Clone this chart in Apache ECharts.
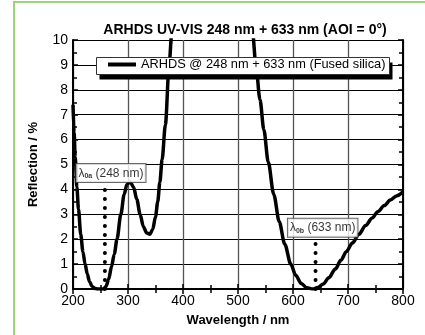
<!DOCTYPE html>
<html><head><meta charset="utf-8">
<script src="https://cdn.jsdelivr.net/npm/echarts@6/dist/echarts.min.js"></script>
<style>html,body{margin:0;padding:0;background:#fff}#c{width:425px;height:335px}</style>
</head><body><div id="c"></div>
<script>
const titleText = 'ARHDS UV-VIS 248 nm + 633 nm (AOI = 0°)';
const seriesName = 'ARHDS @ 248 nm + 633 nm (Fused silica)';
const xName = 'Wavelength / nm';
const yName = 'Reflection / %';
const wavelengths = [200,202,204,207,210,214,218,222,226,230,235,240,245,250,255,260,265,270,275,280,287,293,298,304,310,316,322,328,334,340,345,350,354,358,362,368,375,380,390,420,460,500,520,527,532,540,547,555,565,575,585,596,605,615,625,636,645,655,665,677,687,697,708,720,732,744,754,766,777,789,800];
const reflection  = [7.4,6.3,5.3,4.1,3.2,2.2,1.5,1.0,0.6,0.3,0.1,0.02,0.0,0.0,0.0,0.1,0.4,0.9,1.4,2.0,3.0,3.8,4.2,4.3,4.1,3.6,3.0,2.5,2.25,2.2,2.4,2.9,3.5,4.3,5.2,6.6,9.1,10.4,13,20,22,18,12.5,10.2,9.1,7.6,6.4,5.1,3.8,2.7,1.8,1.0,0.55,0.22,0.05,0.0,0.06,0.2,0.45,0.8,1.15,1.5,1.85,2.2,2.55,2.85,3.1,3.35,3.57,3.75,3.9];
const markerA = {x: 258, top: 4.15, labelX: 269, labelY: 4.3, sub: '0a', text: ' (248 nm)'};
const markerB = {x: 641, top: 1.9, labelX: 654, labelY: 2.1, sub: '0b', text: ' (633 nm)'};

const font = '"Liberation Sans", Arial, sans-serif';
const chart = echarts.init(document.getElementById('c'));
const data = wavelengths.map((w, i) => [w, reflection[i]]);

function dotted(m){
  return {type:'line', name:'dots'+m.sub, data:[[m.x,0],[m.x,m.top]], showSymbol:false, silent:true,
    lineStyle:{color:'#000', width:4, type:[0,9], cap:'round'}, z:3};
}
function ann(m){
  return {type:'scatter', name:'ann'+m.sub, data:[[m.labelX,m.labelY]], symbolSize:0.1, silent:true, z:5,
    label:{show:true, position:'top', distance:0,
      formatter:'{l|λ}{s|'+m.sub+'}{t|'+m.text+'}',
      backgroundColor:'#fff', borderColor:'#444', borderWidth:1, padding:[3,2,2,2],
      rich:{l:{fontSize:12, fontFamily:font, color:'#000'},
            s:{fontSize:7, fontWeight:'bold', fontFamily:font, color:'#000', padding:[6,0,0,0]},
            t:{fontSize:12, fontFamily:font, color:'#000'}}}};
}

chart.setOption({
  animation:false,
  backgroundColor:'#fff',
  textStyle:{fontFamily:font},
  graphic:[
    {type:'rect', shape:{x:14, y:2, width:430, height:360}, style:{fill:'none', stroke:'#9ad57a', lineWidth:2}, silent:true, z:0},
    {type:'rect', shape:{x:99.5, y:62.5, width:293, height:17}, z:49, silent:true, style:{fill:'#000'}},
    {type:'rect', shape:{x:96.5, y:57.5, width:293, height:17}, z:50, silent:true,
     style:{fill:'#fff', stroke:'#333', lineWidth:1}}
  ],
  title:{text:titleText, left:240, top:18, textAlign:'center',
    textStyle:{fontSize:14, fontWeight:'bold', color:'#000', fontFamily:font}},
  legend:{data:[seriesName], left:96, top:57, height:17, z:60,
    padding:[1,6,1,12],
    icon:'rect', itemWidth:28, itemHeight:4, itemGap:0,
    textStyle:{fontSize:12.8, color:'#000', fontFamily:font}},
  grid:{left:73, right:22, top:40, bottom:46},
  xAxis:[{type:'value', min:200, max:800, interval:100, name:xName, nameLocation:'middle', nameGap:25,
    nameTextStyle:{fontSize:13, fontWeight:'bold', color:'#000', fontFamily:font},
    axisLine:{lineStyle:{color:'#000', width:2}},
    axisTick:{inside:true, length:5, lineStyle:{color:'#000', width:1.5}},
    minorTick:{show:true, splitNumber:2, length:4, lineStyle:{color:'#000', width:1.5}},
    axisLabel:{fontSize:14, color:'#000', margin:5, fontFamily:font},
    splitLine:{show:true, lineStyle:{color:'#555', width:1.3}}},
   {type:'value', position:'top', min:200, max:800, interval:100,
    axisLine:{show:true, lineStyle:{color:'#000', width:2}},
    axisTick:{inside:true, length:5, lineStyle:{color:'#000', width:1.5}},
    minorTick:{show:true, splitNumber:2, length:4, lineStyle:{color:'#000', width:1.5}},
    axisLabel:{show:false}, splitLine:{show:false}}],
  yAxis:[{type:'value', min:0, max:10, interval:1, name:yName, nameLocation:'middle', nameGap:33,
    nameTextStyle:{fontSize:13, fontWeight:'bold', color:'#000', fontFamily:font},
    axisLine:{show:true, lineStyle:{color:'#000', width:2}},
    axisTick:{show:true, inside:true, length:5, lineStyle:{color:'#000', width:1.5}},
    minorTick:{show:true, splitNumber:2, length:4, lineStyle:{color:'#000', width:1.5}},
    axisLabel:{fontSize:14, color:'#000', margin:5, fontFamily:font},
    splitLine:{show:true, lineStyle:{color:'#000', width:1}}},
   {type:'value', position:'right', min:0, max:10, interval:1,
    axisLine:{show:true, lineStyle:{color:'#000', width:2}},
    axisTick:{show:true, inside:true, length:5, lineStyle:{color:'#000', width:1.5}},
    minorTick:{show:true, splitNumber:2, length:4, lineStyle:{color:'#000', width:1.5}},
    axisLabel:{show:false}, splitLine:{show:false}}],
  series:[
    {type:'line', name:seriesName, data:data, smooth:0.3, smoothMonotone:'x', showSymbol:false, clip:true, z:4,
     lineStyle:{color:'#000', width:3.5}, itemStyle:{color:'#000'}},
    dotted(markerA), dotted(markerB), ann(markerA), ann(markerB)
  ]
});
</script></body></html>
